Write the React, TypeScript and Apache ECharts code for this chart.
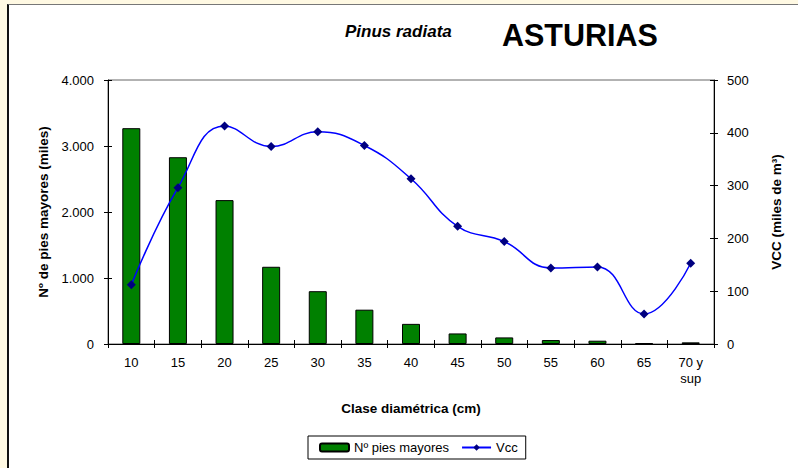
import React, { useEffect, useRef } from "react";
import * as echarts from "echarts";

const categories = ["10", "15", "20", "25", "30", "35", "40", "45", "50", "55", "60", "65", "70 y\nsup"];
const piesMayores = [3270, 2830, 2180, 1170, 800, 520, 305, 160, 100, 60, 50, 12, 25];
const vcc = [112, 296, 413, 374, 402, 376, 313, 223, 194, 144, 146, 57, 153];
const leftTicks = { min: 0, max: 4000, interval: 1000 };
const rightTicks = { min: 0, max: 500, interval: 100 };

const FONT = "'Liberation Sans', Arial, sans-serif";

function fmtLeft(v: number): string {
  if (v === 0) return "0";
  return (v / 1000).toFixed(3);
}

export default function App() {
  const ref = useRef<HTMLDivElement>(null);
  useEffect(() => {
    if (!ref.current) return;
    const chart = echarts.init(ref.current, undefined, { renderer: "svg" });
    const axisText = { color: "#000", fontFamily: FONT, fontSize: 13 };
    const nameText = { color: "#000", fontFamily: FONT, fontSize: 13.5, fontWeight: "bold" as const };
    chart.setOption({
      animation: false,
      backgroundColor: "transparent",
      title: [
        {
          text: "Pinus radiata",
          left: 345,
          top: 23,
          padding: 0,
          textStyle: { fontFamily: FONT, fontSize: 17, fontWeight: "bold", fontStyle: "italic", color: "#000" },
        },
        {
          text: "ASTURIAS",
          left: 502,
          top: 19,
          padding: 0,
          textStyle: { fontFamily: FONT, fontSize: 30.5, fontWeight: "bold", color: "#000" },
        },
      ],
      grid: {
        left: 108,
        right: 84,
        top: 80,
        bottom: 124,
        show: true,
        borderColor: "#666",
        borderWidth: 1,
        backgroundColor: "transparent",
      },
      legend: {
        left: 308,
        top: 436,
        orient: "horizontal",
        padding: [5, 8, 5, 11],
        itemGap: 12,
        itemWidth: 29,
        itemHeight: 8,
        borderColor: "#000",
        borderWidth: 1,
        backgroundColor: "#fff",
        textStyle: { fontFamily: FONT, fontSize: 13, color: "#000" },
        data: ["Nº pies mayores", "Vcc"],
      },
      xAxis: [
        {
          type: "category",
          data: categories,
          position: "bottom",
          name: "Clase diamétrica (cm)",
          nameLocation: "middle",
          nameGap: 57,
          nameTextStyle: nameText,
          axisLine: { show: true, lineStyle: { color: "#000", width: 1 } },
          axisTick: { show: true, alignWithLabel: false, length: 4, lineStyle: { color: "#000" } },
          axisLabel: { ...axisText, margin: 10, lineHeight: 16, interval: 0 },
          splitLine: { show: false },
        },
        {
          type: "category",
          data: categories,
          position: "bottom",
          axisLine: { show: false },
          axisTick: { show: true, inside: true, alignWithLabel: false, length: 4, lineStyle: { color: "#000" } },
          axisLabel: { show: false },
          splitLine: { show: false },
        },
      ],
      yAxis: [
        {
          type: "value",
          position: "left",
          ...leftTicks,
          name: "Nº de pies mayores (miles)",
          nameLocation: "middle",
          nameRotate: 90,
          nameGap: 58,
          nameTextStyle: nameText,
          axisLine: { show: true, lineStyle: { color: "#000", width: 1 } },
          axisTick: { show: true, length: 4, lineStyle: { color: "#000" } },
          axisLabel: { ...axisText, margin: 14, formatter: fmtLeft },
          splitLine: { show: false },
        },
        {
          type: "value",
          position: "right",
          ...rightTicks,
          name: "VCC (miles de m³)",
          nameLocation: "middle",
          nameRotate: 90,
          nameGap: 55,
          nameTextStyle: nameText,
          axisLine: { show: true, lineStyle: { color: "#000", width: 1 } },
          axisTick: { show: true, length: 4, lineStyle: { color: "#000" } },
          axisLabel: { ...axisText, margin: 13 },
          splitLine: { show: false },
        },
        {
          type: "value",
          position: "left",
          ...leftTicks,
          axisLine: { show: false },
          axisTick: { show: true, inside: true, length: 4, lineStyle: { color: "#000" } },
          axisLabel: { show: false },
          splitLine: { show: false },
        },
        {
          type: "value",
          position: "right",
          ...rightTicks,
          axisLine: { show: false },
          axisTick: { show: true, inside: true, length: 4, lineStyle: { color: "#000" } },
          axisLabel: { show: false },
          splitLine: { show: false },
        },
      ],
      series: [
        {
          name: "Nº pies mayores",
          type: "bar",
          xAxisIndex: 0,
          yAxisIndex: 0,
          data: piesMayores,
          barWidth: 18,
          itemStyle: { color: "#008000", borderColor: "#000", borderWidth: 1 },
          z: 2,
        },
        {
          name: "Vcc",
          type: "line",
          xAxisIndex: 0,
          yAxisIndex: 1,
          data: vcc,
          smooth: 0.45,
          symbol: "diamond",
          symbolSize: 9,
          itemStyle: { color: "#000080" },
          lineStyle: { color: "#0000FF", width: 1.5 },
          z: 3,
        },
      ],
    });
    return () => chart.dispose();
  }, []);

  return (
    <div style={{ position: "fixed", left: 0, top: 0, width: 798, height: 468, background: "#FFF9E3", overflow: "hidden" }}>
      <div
        style={{
          position: "absolute",
          left: 7,
          top: 4,
          right: 0,
          bottom: 0,
          background: "#fff",
          borderLeft: "2px solid #111",
          borderTop: "1px solid #777",
        }}
      />
      <div ref={ref} style={{ position: "absolute", left: 0, top: 0, width: 798, height: 468 }} />
    </div>
  );
}
